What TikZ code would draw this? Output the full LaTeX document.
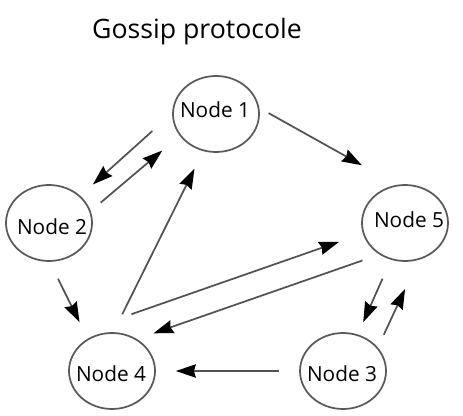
\documentclass[tikz,border=0pt]{standalone}
\usepackage{fontspec}
\setmainfont{Open Sans}
\usepackage{tikz}
\usetikzlibrary{arrows.meta, shapes.geometric}

\begin{document}
\begin{tikzpicture}[x=0.75pt,y=-0.75pt,
  peer/.style={ellipse, draw=black!65, line width=1.3pt, minimum width=64.5pt, minimum height=57pt, inner sep=0pt},
  every label/.style={font=\fontsize{15.6}{18}\selectfont},
  msg/.style={draw=black!68, line width=1.3pt, -{Stealth[length=15pt,width=10pt,inset=1.5pt,black]}}]
\useasboundingbox (0,0) rectangle (463,416);

\node[anchor=base, font=\fontsize{20}{24}\selectfont] (T) at (197,39) {Gossip protocole};

\node[peer, label={[xshift=-0.75pt, yshift=3.3pt]center:Node 1}] (N1) at (216,114) {};
\node[peer, label={[xshift=2.25pt, yshift=-2.6pt]center:Node 2}] (N2) at (49,223) {};
\node[peer, label={[xshift=3pt, yshift=2.6pt]center:Node 5}] (N5) at (405,223) {};
\node[peer, label={[xshift=-0.75pt, yshift=-2pt]center:Node 4}] (N4) at (112,371) {};
\node[peer, label={[xshift=-0.75pt, yshift=-2pt]center:Node 3}] (N3) at (343,371) {};

\path[]
(N1.179) edge[msg, shorten <=20pt, shorten >=12.7pt] (N2.41.5)
(N2.16) edge[msg, shorten <=9.8pt, shorten >=17.1pt] (N1.211)
(N4.88) edge[msg, shorten <=15pt, shorten >=14.7pt] (N1.251)
(N1.8) edge[msg, shorten <=8pt, shorten >=30pt] (N5.102)
(N2.271) edge[msg, shorten <=14.2pt, shorten >=13.7pt] (N4.127)
([yshift=16.4pt]N4.61) edge[msg, shorten >=18.8pt] (N5.194.5)
(N5.231) edge[msg, shorten <=13.5pt, shorten >=13.1pt] (N4.52)
(N5.249) edge[msg, shorten <=15.5pt, shorten >=10pt] (N3.68)
(N3.34) edge[msg, shorten <=10.5pt, shorten >=23.9pt] (N5.290.5)
(N3.180) edge[msg, shorten <=15pt, shorten >=15pt] (N4.0)
;
\end{tikzpicture}
\end{document}
